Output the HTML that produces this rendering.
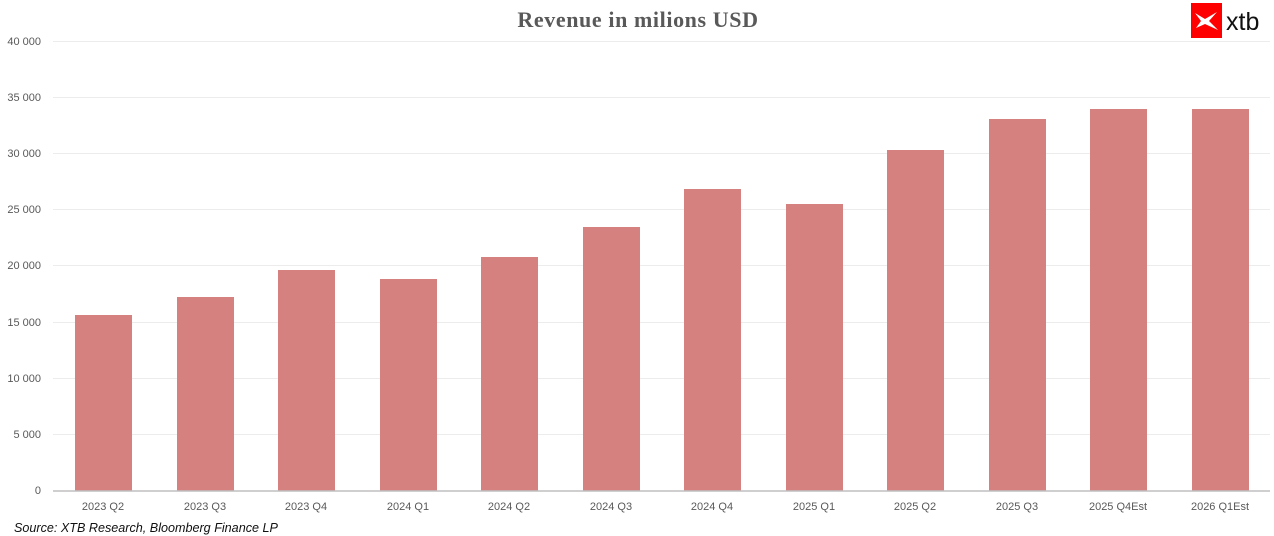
<!DOCTYPE html>
<html><head><style>
body{margin:0;background:#fff;}
svg{display:block;}
</style></head><body>
<svg width="1274" height="536" xmlns="http://www.w3.org/2000/svg" font-family="Liberation Sans, sans-serif">
<rect width="1274" height="536" fill="#fff"/>
<text x="638" y="27" text-anchor="middle" font-family="Liberation Serif, serif" font-weight="bold" font-size="22" letter-spacing="0.6" fill="#595959">Revenue in milions USD</text>
<rect x="1191" y="3" width="31" height="35" fill="#ff0000"/>
<path d="M1195 13 L1205 19 L1217 12 L1209 21 L1218 30 L1205 24 L1196 28 L1201 21 Z" fill="#fff"/>
<text x="1226" y="30" font-size="25" fill="#111">xtb</text>
<g stroke="#ececec" stroke-width="1">
<line x1="53" x2="1270" y1="41.5" y2="41.5"/>
<line x1="53" x2="1270" y1="97.5" y2="97.5"/>
<line x1="53" x2="1270" y1="153.5" y2="153.5"/>
<line x1="53" x2="1270" y1="209.5" y2="209.5"/>
<line x1="53" x2="1270" y1="265.5" y2="265.5"/>
<line x1="53" x2="1270" y1="322.5" y2="322.5"/>
<line x1="53" x2="1270" y1="378.5" y2="378.5"/>
<line x1="53" x2="1270" y1="434.5" y2="434.5"/>
</g>
<g font-size="11" fill="#595959" text-anchor="end">
<text x="41" y="45">40 000</text>
<text x="41" y="101">35 000</text>
<text x="41" y="157">30 000</text>
<text x="41" y="213">25 000</text>
<text x="41" y="269">20 000</text>
<text x="41" y="326">15 000</text>
<text x="41" y="382">10 000</text>
<text x="41" y="438">5 000</text>
<text x="41" y="494">0</text>
</g>
<g fill="#d48180">
<rect x="75" y="315" width="57" height="176"/>
<rect x="177" y="297" width="57" height="194"/>
<rect x="278" y="270" width="57" height="221"/>
<rect x="380" y="279" width="57" height="212"/>
<rect x="481" y="257" width="57" height="234"/>
<rect x="583" y="227" width="57" height="264"/>
<rect x="684" y="189" width="57" height="302"/>
<rect x="786" y="204" width="57" height="287"/>
<rect x="887" y="150" width="57" height="341"/>
<rect x="989" y="119" width="57" height="372"/>
<rect x="1090" y="109" width="57" height="382"/>
<rect x="1192" y="109" width="57" height="382"/>
</g>
<line x1="53" x2="1270" y1="491" y2="491" stroke="#bfbfbf" stroke-width="1.5"/>
<g font-size="11" fill="#595959" text-anchor="middle">
<text x="103" y="510">2023 Q2</text>
<text x="205" y="510">2023 Q3</text>
<text x="306" y="510">2023 Q4</text>
<text x="408" y="510">2024 Q1</text>
<text x="509" y="510">2024 Q2</text>
<text x="611" y="510">2024 Q3</text>
<text x="712" y="510">2024 Q4</text>
<text x="814" y="510">2025 Q1</text>
<text x="915" y="510">2025 Q2</text>
<text x="1017" y="510">2025 Q3</text>
<text x="1118" y="510">2025 Q4Est</text>
<text x="1220" y="510">2026 Q1Est</text>
</g>
<text x="14" y="532" font-size="12.6" font-style="italic" fill="#111">Source: XTB Research, Bloomberg Finance LP</text>
</svg>
</body></html>
